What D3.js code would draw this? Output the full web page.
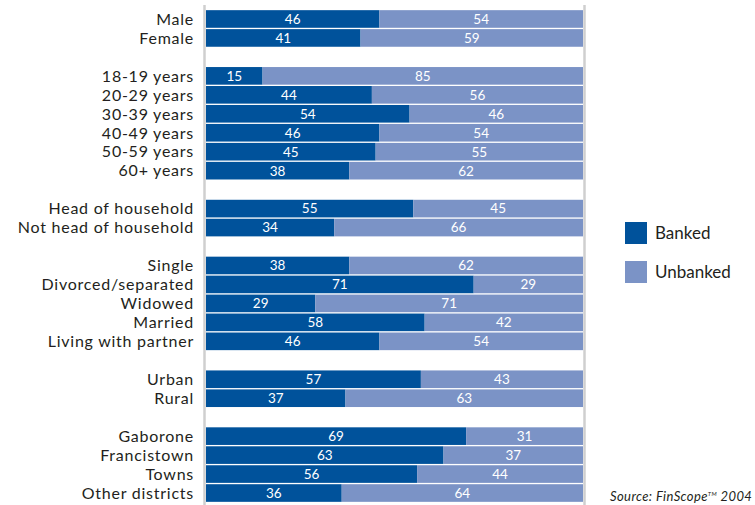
<!DOCTYPE html>
<html>
<head>
<meta charset="utf-8">
<script src="https://cdn.jsdelivr.net/npm/d3@7"></script>
<style>
  body { margin: 0; background: #fff; }
  svg { display: block; }
</style>
</head>
<body>
<script>
// rows, blank strings are the gaps between groups
var categories = [
  "Male", "Female", "",
  "18-19 years", "20-29 years", "30-39 years", "40-49 years", "50-59 years", "60+ years", " ",
  "Head of household", "Not head of household", "  ",
  "Single", "Divorced/separated", "Widowed", "Married", "Living with partner", "   ",
  "Urban", "Rural", "    ",
  "Gaborone", "Francistown", "Towns", "Other districts"
];

var banked = [46, 41, null, 15, 44, 54, 46, 45, 38, null, 55, 34, null,
  38, 71, 29, 58, 46, null, 57, 37, null, 69, 63, 56, 36];
var unbanked = [54, 59, null, 85, 56, 46, 54, 55, 62, null, 45, 66, null,
  62, 29, 71, 42, 54, null, 43, 63, null, 31, 37, 44, 64];

var seriesNames = ["Banked", "Unbanked"];
var colors = ["#00529b", "#7b93c6"];

var width = 755, height = 505;

var svg = d3.select("body").append("svg")
  .attr("width", width)
  .attr("height", height);

var x = d3.scaleLinear().domain([0, 100]).range([206, 583]);
var y = d3.scaleBand().domain(categories).range([9.5, 502.5]).paddingInner(0.07).paddingOuter(0.035);

var rows = categories.map(function (c, i) {
  return { key: c, banked: banked[i], unbanked: unbanked[i] };
}).filter(function (d) { return d.banked != null; });

var stack = d3.stack().keys(["banked", "unbanked"]);
var layers = stack(rows);

// grey frame lines
svg.append("line")
  .attr("x1", 204.5).attr("x2", 204.5).attr("y1", 5).attr("y2", height)
  .attr("stroke", "#cfcfcf").attr("stroke-width", 2.5);
svg.append("line")
  .attr("x1", 584.5).attr("x2", 584.5).attr("y1", 5).attr("y2", height)
  .attr("stroke", "#cfcfcf").attr("stroke-width", 2.5);

var g = svg.selectAll("g.layer").data(layers).enter().append("g")
  .attr("class", "layer")
  .attr("fill", function (d, i) { return colors[i]; });

g.selectAll("rect").data(function (d) { return d; }).enter().append("rect")
  .attr("x", function (d) { return x(d[0]); })
  .attr("width", function (d) { return x(d[1]) - x(d[0]); })
  .attr("y", function (d) { return y(d.data.key); })
  .attr("height", y.bandwidth());

g.selectAll("text").data(function (d) { return d; }).enter().append("text")
  .attr("x", function (d) { return (x(d[0]) + x(d[1])) / 2; })
  .attr("y", function (d) { return y(d.data.key) + y.bandwidth() / 2; })
  .attr("dy", "0.36em")
  .attr("text-anchor", "middle")
  .attr("fill", "#fff")
  .style("font-family", "Lato, sans-serif")
  .style("font-size", "13.5px")
  .text(function (d) { return d[1] - d[0]; });

// category labels
svg.selectAll("text.cat").data(rows).enter().append("text")
  .attr("class", "cat")
  .attr("x", 194)
  .attr("y", function (d) { return y(d.key) + y.bandwidth() / 2; })
  .attr("dy", "0.36em")
  .attr("text-anchor", "end")
  .attr("fill", "#231f20")
  .style("font-family", "Lato, sans-serif")
  .style("font-size", "16px")
  .style("letter-spacing", "0.75px")
  .text(function (d) { return d.key; });

// legend
var legend = svg.selectAll("g.legend").data(seriesNames).enter().append("g")
  .attr("class", "legend")
  .attr("transform", function (d, i) { return "translate(625," + (222 + i * 39) + ")"; });
legend.append("rect")
  .attr("width", 22).attr("height", 22)
  .attr("fill", function (d, i) { return colors[i]; });
legend.append("text")
  .attr("x", 30).attr("y", 11).attr("dy", "0.36em")
  .attr("fill", "#231f20")
  .style("font-family", "Lato, sans-serif")
  .style("font-size", "17px")
  .text(function (d) { return d; });

// source note
var src = svg.append("text")
  .attr("x", 610).attr("y", 501)
  .attr("fill", "#231f20")
  .style("font-family", "Lato, sans-serif")
  .style("font-size", "13px")
  .style("font-style", "italic")
  .style("letter-spacing", "0.4px");
src.append("tspan").text("Source: FinScope");
src.append("tspan").attr("dy", -5).style("font-size", "6px").text("TM");
src.append("tspan").attr("dy", 5).text(" 2004");
</script>
</body>
</html>
